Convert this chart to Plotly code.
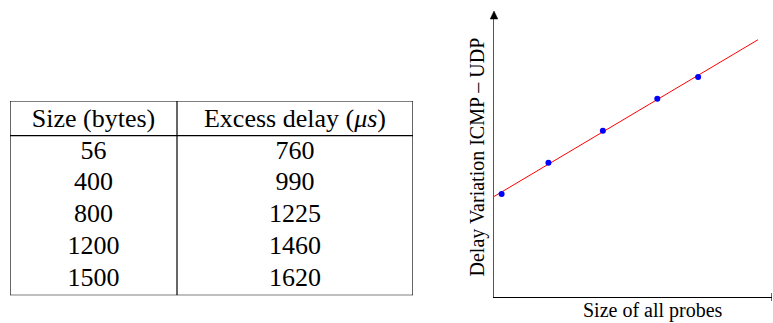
import numpy as np
import plotly.graph_objects as go

# ---- data ----
sizes = [56, 400, 800, 1200, 1500]            # bytes
delays = [760, 990, 1225, 1460, 1620]         # excess delay (us)
table_headers = ["Size (bytes)", "Excess delay (<i>μs</i>)"]
x_title = "Size of all probes"
y_title = "Delay Variation ICMP – UDP"

W, H = 773, 323
SERIF = "Liberation Serif, Times New Roman, serif"

# least-squares fit drawn as the red line
coef = np.polyfit(sizes, delays, 1)
fit_x = np.array([0, 1940])
fit_y = np.polyval(coef, fit_x)

fig = go.Figure()

# ---- scatter plot ----
fig.add_trace(go.Scatter(x=fit_x, y=fit_y, mode="lines",
                         line=dict(color="red", width=1), hoverinfo="skip",
                         showlegend=False))
fig.add_trace(go.Scatter(x=sizes, y=delays, mode="markers",
                         marker=dict(color="#0000ff", size=6), showlegend=False))

# ---- table as text on hidden axes ----
col_split = 167 / 403
col_centers = [col_split / 2, (1 + col_split) / 2]
tx, ty, tt = [], [], []
for j, h in enumerate(table_headers):
    tx.append(col_centers[j]); ty.append(0); tt.append(h)
for i, (s, d) in enumerate(zip(sizes, delays), start=1):
    tx += col_centers; ty += [i, i]; tt += [str(s), str(d)]
fig.add_trace(go.Scatter(x=tx, y=ty, text=tt, mode="text", xaxis="x2", yaxis="y2",
                         textposition="middle center",
                         textfont=dict(family=SERIF, size=26, color="black"),
                         hoverinfo="skip", showlegend=False))

y_top, y_head, y_bot = -0.606, 0.487, 5.51
tline = dict(color="black", width=1.2)
shapes = []
for xv in [0, col_split, 1]:
    shapes.append(dict(type="line", xref="x2", yref="y2", x0=xv, x1=xv,
                       y0=y_top, y1=y_bot, line=tline))
for yv in [y_top, y_head, y_bot]:
    shapes.append(dict(type="line", xref="x2", yref="y2", x0=0, x1=1,
                       y0=yv, y1=yv, line=tline))

# arrow head on y axis and end tick on x axis
ax_x = 494 / W
shapes.append(dict(type="path", xref="paper", yref="paper",
                   path=f"M {ax_x-3.8/W} {(H-19)/H} L {ax_x+3.8/W} {(H-19)/H} L {ax_x} {(H-11)/H} Z",
                   fillcolor="black", line=dict(color="black", width=0.5)))
x_max = 2043
shapes.append(dict(type="line", xref="x", yref="paper", x0=x_max, x1=x_max,
                   y0=(H-301)/H, y1=(H-293)/H, line=dict(color="black", width=1.2)))

fig.update_layout(
    width=W, height=H, margin=dict(l=0, r=0, t=0, b=0),
    paper_bgcolor="white", plot_bgcolor="white",
    xaxis=dict(domain=[494 / W, 772 / W], range=[0, x_max], showgrid=False,
               zeroline=False, showticklabels=False, ticks="",
               showline=True, linecolor="black", linewidth=1.2),
    yaxis=dict(domain=[(H - 297.3) / H, (H - 19) / H], range=[0, 2046], showgrid=False,
               zeroline=False, showticklabels=False, ticks="",
               showline=True, linecolor="#555555", linewidth=1.3),
    xaxis2=dict(domain=[10 / W, 413 / W], range=[0, 1], visible=False, anchor="y2"),
    yaxis2=dict(domain=[(H - 295.3) / H, (H - 101) / H], range=[y_bot, y_top],
                visible=False, anchor="x2"),
    shapes=shapes,
    annotations=[
        dict(text=x_title, xref="paper", yref="paper", x=653 / W, y=(H - 310) / H,
             xanchor="center", yanchor="middle", showarrow=False,
             font=dict(family=SERIF, size=20, color="black")),
        dict(text=y_title, xref="paper", yref="paper", x=477 / W, y=(H - 157.5) / H,
             xanchor="center", yanchor="middle", textangle=-90, showarrow=False,
             font=dict(family=SERIF, size=20, color="black")),
    ],
)

fig.write_html("out.html", config={"displayModeBar": False},
               post_script="document.body.style.margin='0';document.body.style.overflow='hidden';")
